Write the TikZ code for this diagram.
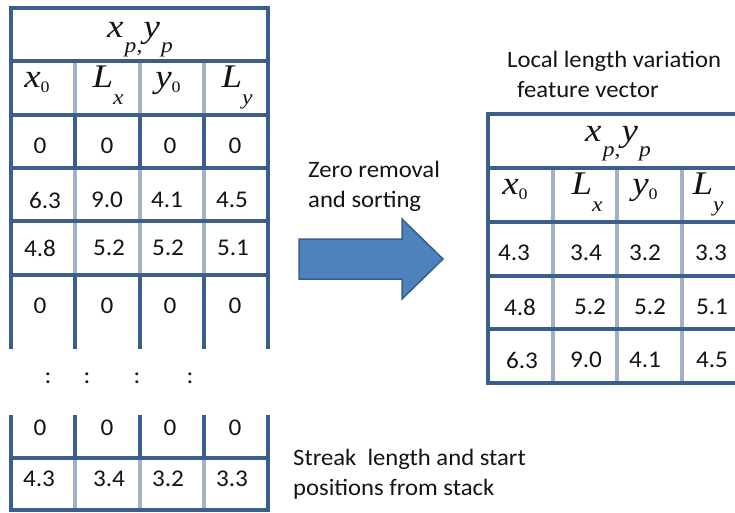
\documentclass[tikz,border=0pt]{standalone}
\usepackage{fontspec}
\usepackage{graphicx}
\setmainfont{Carlito}[FakeStretch=1.05]
\newfontfamily\tms{Liberation Serif}
\definecolor{tdark}{HTML}{3B5E8C}
\definecolor{tlight}{HTML}{A3B1C8}
\definecolor{afill}{HTML}{4F81BD}
\definecolor{aborder}{HTML}{385D8A}
\definecolor{ink}{HTML}{141414}
\newcommand\mbig{\tms\itshape\fontsize{33}{33}\selectfont}
\newcommand\dsub[1]{\raisebox{-5pt}{\upshape\fontsize{16}{16}\selectfont #1}}
\newcommand\lsub[2]{\raisebox{-#1pt}{\fontsize{21}{21}\selectfont #2}}
\newcommand\mw[1]{\scalebox{1.12}[1]{#1}}
\newcommand\hdr{\mw{\mbig x\kern1pt\lsub{15}{p\upshape,}\kern1pt y\kern1pt\lsub{15}{p}}}
\newcommand\xz{\mw{\mbig x\dsub{0}}}
\newcommand\yz{\mw{\mbig y\dsub{0}}}
\newcommand\Lx{\mw{\mbig L\lsub{17}{x}}}
\newcommand\Ly{\mw{\mbig L\lsub{17}{y}}}
\begin{document}
\begin{tikzpicture}[x=1pt,y=-1pt,
  dk/.style={draw=tdark,line width=3.4pt},
  lt/.style={draw=tlight,line width=3.4pt},
  txt/.style={font=\fontsize{23.5}{28}\selectfont, text=ink, inner sep=0pt},
  num/.style={txt, font=\fontsize{24}{28}\selectfont, anchor=center},
  lbl/.style={txt, anchor=base west},
  mth/.style={inner sep=0pt, text=ink, anchor=base}]
\useasboundingbox (0,0) rectangle (735,512);
\clip (0,0) rectangle (735,512);
% ---------- left table ----------
\foreach \x in {75,140,204} {
  \draw[lt] (\x,61) -- (\x,115);
  \draw[lt] (\x,168) -- (\x,275);
  \draw[lt] (\x,458) -- (\x,510);
  \draw[dk] (\x,115) -- (\x,168);
  \draw[dk] (\x,275) -- (\x,349);
  \draw[dk] (\x,415) -- (\x,458);
}
\foreach \y in {61,115,168,221,275,458} \draw[dk] (11,\y) -- (268,\y);
\draw[dk] (11,349) -- (11,8) -- (268,8) -- (268,349);
\draw[dk] (11,415) -- (11,510) -- (268,510) -- (268,415);
% ---------- right table ----------
\foreach \x in {553,617,682} \draw[lt] (\x,168) -- (\x,383);
\foreach \y in {168,222,276,329} \draw[dk] (488,\y) -- (747,\y);
\draw[dk] (488,114) rectangle (747,383);
% ---------- arrow ----------
\draw[fill=afill, draw=aborder, line width=1.5pt, line join=miter]
  (299,239) -- (402,239) -- (402,219) -- (443,259) -- (402,299) -- (402,279) -- (299,279) -- cycle;
% ---------- left table text ----------
\node[mth] (lh) at (140,37) {\hdr};
\node[mth] (lx0) at (37,87) {\xz};
\node[mth] (lLx) at (108,87) {\Lx};
\node[mth] (ly0) at (168,87) {\yz};
\node[mth] (lLy) at (237,87) {\Ly};
\foreach \t/\x/\y/\n in {0/40/146/a1,0/107/146/a2,0/170/146/a3,0/235/146/a4,
  6.3/45/200/b1,9.0/107/200/b2,4.1/167/200/b3,4.5/232/200/b4,
  4.8/40/248/c1,5.2/109/248/c2,5.2/168/248/c3,5.1/233/248/c4,
  0/40/306/d1,0/107/306/d2,0/170/306/d3,0/235/306/d4,
  0/40/428/e1,0/107/428/e2,0/170/428/e3,0/235/428/e4,
  4.3/39/479/f1,3.4/109/479/f2,3.2/168/479/f3,3.3/232/479/f4}
  \node[num] (l\n) at (\x,\y) {\t};
\foreach \x/\n in {48/1,87/2,137/3,190/4}
  \node[num] (dots\n) at (\x,378) {:};
% ---------- right table text ----------
\node[mth] (rh) at (618,141) {\hdr};
\node[mth] (rx0) at (515,194) {\xz};
\node[mth] (rLx) at (587,194) {\Lx};
\node[mth] (ry0) at (645,194) {\yz};
\node[mth] (rLy) at (708,194) {\Ly};
\foreach \t/\x/\y/\n in {4.3/514/253/a1,3.4/586/253/a2,3.2/645/253/a3,3.3/711/253/a4,
  4.8/520/307/b1,5.2/590/307/b2,5.2/650/307/b3,5.1/712/307/b4,
  6.3/522/360/c1,9.0/586/360/c2,4.1/645/360/c3,4.5/712/360/c4}
  \node[num] (r\n) at (\x,\y) {\t};
% ---------- labels ----------
\node[lbl] (zero1) at (308,177) {Zero removal};
\node[lbl] (zero2) at (308,207) {and sorting};
\node[lbl] (loc1) at (507,67) {Local length variation};
\node[lbl] (loc2) at (517,97) {feature vector};
\node[lbl] (str1) at (293,465) {Streak\ \ length and start};
\node[lbl] (str2) at (293,495) {positions from stack};
\end{tikzpicture}
\end{document}
